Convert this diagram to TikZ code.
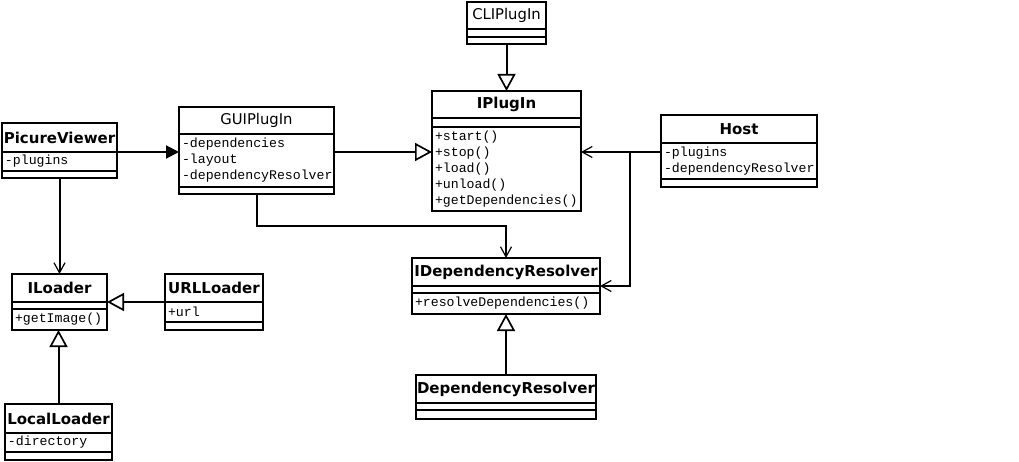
\documentclass[tikz,border=0pt]{standalone}
\usepackage{fontspec}
\setmainfont{DejaVu Sans}
\setmonofont{Liberation Mono}
\usetikzlibrary{arrows.meta}

\tikzset{
  box/.style={draw, line width=2pt, anchor=north west, inner sep=0pt, outer sep=0pt},
  head/.style={box, font=\fontsize{15}{17}\selectfont\bfseries},
  plainhead/.style={box, font=\fontsize{14.8}{17}\selectfont},
  members/.style={box, font=\ttfamily\fontsize{13.2}{16}\selectfont, align=left, inner xsep=3pt},
  link/.style={line width=2pt},
  uses/.style={link, -{Straight Barb[length=10pt,width=11pt,line width=1.2pt]}},
  navigates/.style={link, -{Triangle[length=13pt,width=13pt]}},
  realizes/.style={link, -{Triangle[open,length=17pt,width=18pt,line width=1.7pt]}}
}

\begin{document}
\begin{tikzpicture}
                        [x=1pt, y=-1pt]
                        \fill[white] (0,0) rectangle (1019,462);
                        \useasboundingbox (0,0) rectangle (1019,462);
                        % classes
                        \node[head, minimum width=115pt, minimum height=29pt] (pv) at (2,123) {PicureViewer};
                        \node[members, text width=109pt, minimum height=19pt] (pv-a) at (pv.south west) {-plugins};
                        \node[box, minimum width=115pt, minimum height=7pt] (pv-m) at (pv-a.south west) {};

                        \node[plainhead, minimum width=155pt, minimum height=27pt] (gui) at (179,107) {GUIPlugIn};
                        \node[members, text width=149pt, minimum height=53pt] (gui-a) at (gui.south west) {-dependencies\\-layout\\-dependencyResolver};
                        \node[box, minimum width=155pt, minimum height=7pt] (gui-m) at (gui-a.south west) {};

                        \node[plainhead, minimum width=79pt, minimum height=27pt] (cli) at (467,2) {CLIPlugIn};
                        \node[box, minimum width=79pt, minimum height=8pt] (cli-a) at (cli.south west) {};
                        \node[box, minimum width=79pt, minimum height=7pt] (cli-m) at (cli-a.south west) {};

                        \node[head, minimum width=149pt, minimum height=27pt] (ip) at (432,91) {IPlugIn};
                        \node[box, minimum width=149pt, minimum height=9pt] (ip-a) at (ip.south west) {};
                        \node[members, text width=143pt, minimum height=84pt] (ip-m) at (ip-a.south west) {+start()\\+stop()\\+load()\\+unload()\\+getDependencies()};

                        \node[head, minimum width=156pt, minimum height=28pt] (host) at (661,115) {Host};
                        \node[members, text width=150pt, minimum height=36pt] (host-a) at (host.south west) {-plugins\\-dependencyResolver};
                        \node[box, minimum width=156pt, minimum height=8pt] (host-m) at (host-a.south west) {};

                        \node[head, minimum width=95pt, minimum height=28pt] (il) at (12,274) {ILoader};
                        \node[box, minimum width=95pt, minimum height=7pt] (il-a) at (il.south west) {};
                        \node[members, text width=89pt, minimum height=21pt] (il-m) at (il-a.south west) {+getImage()};

                        \node[head, minimum width=98pt, minimum height=28pt] (url) at (165,274) {URLLoader};
                        \node[members, text width=92pt, minimum height=20pt] (url-a) at (url.south west) {+url};
                        \node[box, minimum width=98pt, minimum height=8pt] (url-m) at (url-a.south west) {};

                        \node[head, minimum width=107pt, minimum height=29pt] (lo) at (5,404) {LocalLoader};
                        \node[members, text width=101pt, minimum height=19pt] (lo-a) at (lo.south west) {-directory};
                        \node[box, minimum width=107pt, minimum height=8pt] (lo-m) at (lo-a.south west) {};

                        \node[head, minimum width=188pt, minimum height=28pt] (idr) at (412,258) {IDependencyResolver};
                        \node[box, minimum width=188pt, minimum height=7pt] (idr-a) at (idr.south west) {};
                        \node[members, text width=182pt, minimum height=21pt] (idr-m) at (idr-a.south west) {+resolveDependencies()};

                        \node[head, minimum width=180pt, minimum height=28pt] (dr) at (416,375) {DependencyResolver};
                        \node[box, minimum width=180pt, minimum height=7pt] (dr-a) at (dr.south west) {};
                        \node[box, minimum width=180pt, minimum height=9pt] (dr-m) at (dr-a.south west) {};

                        % connectors
                        \coordinate (row) at (0,152);
                        \coordinate (fork) at (630,152);
                        \draw[navigates] (pv-a.north east) -- (row -| gui-a.west);
                        \draw[realizes] (row -| gui-a.east) -- (row -| ip-m.west);
                        \draw[uses] (row -| host-a.west) -- (row -| ip-m.east);
                        \draw[uses] (fork) |- (idr-a.north east);
                        \draw[uses] (gui-m.south) -- ++(0,32) -| (idr.north);
                        \draw[uses] (pv-m.south) -- (il.north);
                        \draw[realizes] (cli-m.south) -- (ip.north);
                        \draw[realizes] (url-a.north west) -- (il-a.north east);
                        \draw[realizes] (lo.north) -- (lo.north |- il-m.south);
                        \draw[realizes] (dr.north) -- (idr-m.south);
                    \end{tikzpicture}
\end{document}
